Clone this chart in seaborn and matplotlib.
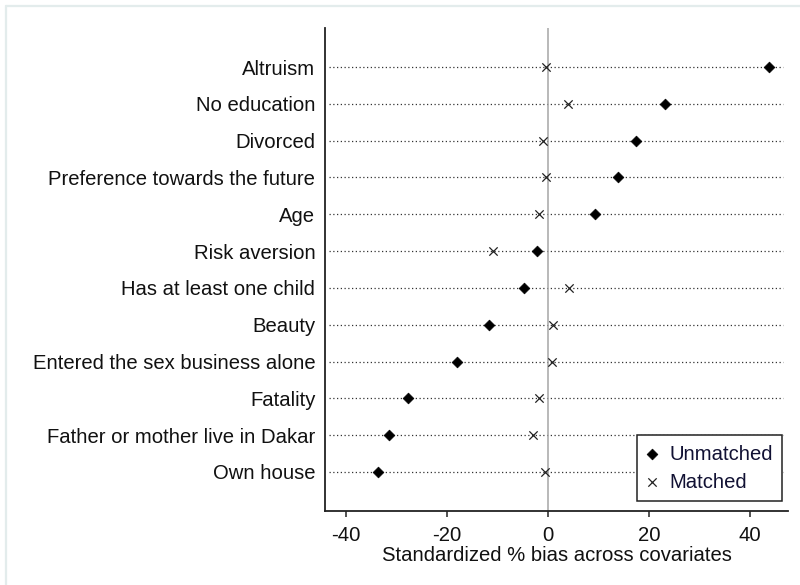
import matplotlib
matplotlib.use("Agg")
import matplotlib.pyplot as plt
import matplotlib.lines as mlines
import seaborn as sns
import pandas as pd

covariates = [
    "Altruism", "No education", "Divorced", "Preference towards the future",
    "Age", "Risk aversion", "Has at least one child", "Beauty",
    "Entered the sex business alone", "Fatality",
    "Father or mother live in Dakar", "Own house",
]
unmatched = [43.8, 23.2, 17.4, 13.9, 9.2, -2.2, -4.8, -11.7, -18.1, -27.7, -31.5, -33.7]
matched = [-0.5, 3.9, -1.1, -0.5, -1.9, -11.0, 4.2, 1.0, 0.7, -1.8, -3.1, -0.6]
xticks = [-40, -20, 0, 20, 40]

sns.set_theme(style="white")
plt.rcParams["font.family"] = ["Liberation Sans", "DejaVu Sans"]
FS = 14.6

df = pd.DataFrame({
    "covariate": covariates * 2,
    "row": list(range(len(covariates))) * 2,
    "bias": unmatched + matched,
    "sample": ["Unmatched"] * len(covariates) + ["Matched"] * len(covariates),
})

fig = plt.figure(figsize=(8, 5.85), dpi=100)
ax = fig.add_axes([325 / 800, 74 / 585, 463 / 800, 483 / 585])

# thin outer frame of the graph region
fig.add_artist(mlines.Line2D([6 / 800, 1.0], [1 - 6 / 585, 1 - 6 / 585],
                             transform=fig.transFigure, color="#e3ecec", lw=1.6))
fig.add_artist(mlines.Line2D([6 / 800, 6 / 800], [0, 1 - 6 / 585],
                             transform=fig.transFigure, color="#e3ecec", lw=1.6))

n = len(covariates)
ax.set_xlim(-44.2, 47.5)
ax.set_ylim(n - 1 + 1.06, -1.06)

# dotted guide line for every covariate
for i in range(n):
    ax.plot([-43.4, 46.5], [i, i], linestyle=(0, (1, 2.0)), color="#333333",
            lw=0.9, zorder=1)
ax.axvline(0, color="#a6a6a6", lw=1.1, zorder=1)

sub_u = df[df["sample"] == "Unmatched"]
sub_m = df[df["sample"] == "Matched"]
sns.scatterplot(data=sub_u, x="bias", y="row", marker="D", color="black",
                s=30, edgecolor="black", linewidth=0.5, ax=ax, zorder=3,
                label="Unmatched")
sns.scatterplot(data=sub_m, x="bias", y="row", marker="x", color="#222222",
                s=36, linewidth=0.9, ax=ax, zorder=3, label="Matched")

ax.set_yticks(range(n))
ax.set_yticklabels(covariates, fontsize=FS, color="#111111")
ax.set_xticks(xticks)
ax.set_xticklabels([str(t) for t in xticks], fontsize=FS, color="#111111")
ax.tick_params(axis="y", length=0, pad=7)
ax.tick_params(axis="x", length=4.5, width=1.1, color="#222222",
               direction="out", bottom=True, pad=6)
ax.set_xlabel("Standardized % bias across covariates", fontsize=FS,
              color="#111111", labelpad=1)
ax.set_ylabel("")

for side in ["top", "right"]:
    ax.spines[side].set_visible(False)
for side in ["left", "bottom"]:
    ax.spines[side].set_color("#222222")
    ax.spines[side].set_linewidth(1.3)

leg = ax.legend(loc="lower right", bbox_to_anchor=(0.987, 0.021),
                fontsize=FS, frameon=True, fancybox=False, framealpha=1,
                edgecolor="#222222", borderaxespad=0, handletextpad=0.55,
                handlelength=0.6, borderpad=0.45, labelspacing=0.45)
leg.get_frame().set_linewidth(1.1)
for t in leg.get_texts():
    t.set_color("#111133")

fig.savefig("out.png", dpi=100, facecolor="white")
